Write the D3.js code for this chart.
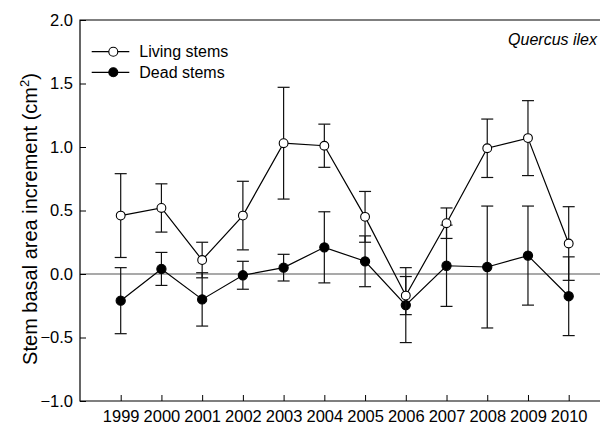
<!DOCTYPE html>
<html>
<head>
<meta charset="utf-8">
<script src="https://cdn.jsdelivr.net/npm/d3@7"></script>
<style>
  html, body { margin: 0; padding: 0; background: #fff; }
  svg { display: block; font-family: "Liberation Sans", Arial, sans-serif; }
</style>
</head>
<body>
<svg id="chart" width="601" height="423"></svg>
<script>
// Stem basal area increment of Quercus ilex, mean ± error per year
const years = [1999, 2000, 2001, 2002, 2003, 2004, 2005, 2006, 2007, 2008, 2009, 2010];
const livingMean = [0.46, 0.52, 0.11, 0.46, 1.03, 1.01, 0.45, -0.17, 0.40, 0.99, 1.07, 0.24];
const livingErr  = [0.33, 0.19, 0.14, 0.27, 0.44, 0.17, 0.20, 0.15, 0.12, 0.23, 0.295, 0.29];
const deadMean   = [-0.21, 0.04, -0.20, -0.01, 0.05, 0.21, 0.10, -0.245, 0.065, 0.055, 0.145, -0.175];
const deadErr    = [0.26, 0.13, 0.21, 0.11, 0.105, 0.28, 0.20, 0.295, 0.32, 0.48, 0.39, 0.31];
const yTicks = [-1.0, -0.5, 0.0, 0.5, 1.0, 1.5, 2.0];
const seriesNames = ["Living stems", "Dead stems"];

const svg = d3.select("#chart");
const plotLeft = 80, plotRight = 600, plotTop = 20, plotBottom = 401;

const x = d3.scaleLinear().domain([1999, 2010]).range([120.7, 568.7]);
const y = d3.scaleLinear().domain([-1, 2]).range([plotBottom, plotTop]);

// reference line at zero
svg.append("line")
  .attr("x1", plotLeft).attr("x2", plotRight)
  .attr("y1", y(0)).attr("y2", y(0))
  .attr("stroke", "#8c8c8c").attr("stroke-width", 1.3);

// axes with inward ticks
const yAxis = d3.axisLeft(y).tickValues(yTicks).tickFormat(d3.format(".1f"))
  .tickSizeInner(-6).tickSizeOuter(0).tickPadding(7);
const gy = svg.append("g").attr("transform", `translate(${plotLeft},0)`).call(yAxis);
gy.select(".domain").remove();
gy.selectAll(".tick line").attr("stroke", "#000");
gy.selectAll(".tick text").attr("font-size", "16.5px").attr("fill", "#000")
  .attr("font-family", "Liberation Sans, Arial, sans-serif");

const xAxis = d3.axisBottom(x).tickValues(years).tickFormat(d3.format("d"))
  .tickSizeInner(-6).tickSizeOuter(0).tickPadding(0);
const gx = svg.append("g").attr("transform", `translate(0,${plotBottom})`).call(xAxis);
gx.select(".domain").remove();
gx.selectAll(".tick line").attr("stroke", "#000");
gx.selectAll(".tick text").attr("font-size", "16.5px").attr("fill", "#000")
  .attr("font-family", "Liberation Sans, Arial, sans-serif")
  .attr("dy", null).attr("y", 20.5);

// frame: left, top, bottom
svg.append("path")
  .attr("d", `M${plotRight},${plotTop}H${plotLeft}V${plotBottom}H${plotRight}`)
  .attr("fill", "none").attr("stroke", "#000").attr("stroke-width", 1.2);

// axis title
svg.append("text")
  .attr("transform", `translate(37,219) rotate(-90)`)
  .attr("text-anchor", "middle")
  .attr("font-size", "20px")
  .attr("fill", "#000")
  .html('Stem basal area increment (cm<tspan dy="-8" font-size="13px">2</tspan><tspan dy="8">)</tspan>');

// species label
svg.append("text")
  .attr("x", 597).attr("y", 45)
  .attr("text-anchor", "end")
  .attr("font-size", "16px")
  .attr("font-style", "italic")
  .attr("fill", "#000")
  .text("Quercus ilex");

function drawSeries(means, errs, fill, r) {
  const data = years.map((yr, i) => ({ yr, m: means[i], e: errs[i] }));
  const g = svg.append("g");
  const eb = g.selectAll("g.eb").data(data).join("g").attr("class", "eb")
    .attr("stroke", "#111").attr("stroke-width", 1.2);
  eb.append("line")
    .attr("x1", d => x(d.yr)).attr("x2", d => x(d.yr))
    .attr("y1", d => y(d.m + d.e)).attr("y2", d => y(d.m - d.e));
  eb.append("line")
    .attr("x1", d => x(d.yr) - 6).attr("x2", d => x(d.yr) + 6)
    .attr("y1", d => y(d.m + d.e)).attr("y2", d => y(d.m + d.e));
  eb.append("line")
    .attr("x1", d => x(d.yr) - 6).attr("x2", d => x(d.yr) + 6)
    .attr("y1", d => y(d.m - d.e)).attr("y2", d => y(d.m - d.e));
  g.append("path")
    .datum(data)
    .attr("fill", "none").attr("stroke", "#000").attr("stroke-width", 1.2)
    .attr("d", d3.line().x(d => x(d.yr)).y(d => y(d.m)));
  g.selectAll("circle").data(data).join("circle")
    .attr("cx", d => x(d.yr)).attr("cy", d => y(d.m)).attr("r", r)
    .attr("fill", fill).attr("stroke", "#000").attr("stroke-width", 1.1);
}

drawSeries(deadMean, deadErr, "#000", 4.6);
drawSeries(livingMean, livingErr, "#fff", 4.4);

// legend
const legend = svg.append("g");
const legendRows = [
  { name: seriesNames[0], fill: "#fff", cy: 51.7 },
  { name: seriesNames[1], fill: "#000", cy: 72.3 }
];
legendRows.forEach(row => {
  legend.append("line")
    .attr("x1", 91.7).attr("x2", 129.3).attr("y1", row.cy).attr("y2", row.cy)
    .attr("stroke", "#000").attr("stroke-width", 1.2);
  legend.append("circle")
    .attr("cx", 113.3).attr("cy", row.cy).attr("r", 4.5)
    .attr("fill", row.fill).attr("stroke", "#000").attr("stroke-width", 1.1);
  legend.append("text")
    .attr("x", 139.3).attr("y", row.cy + 5.7)
    .attr("font-size", "16px").attr("fill", "#000")
    .text(row.name);
});
</script>
</body>
</html>
